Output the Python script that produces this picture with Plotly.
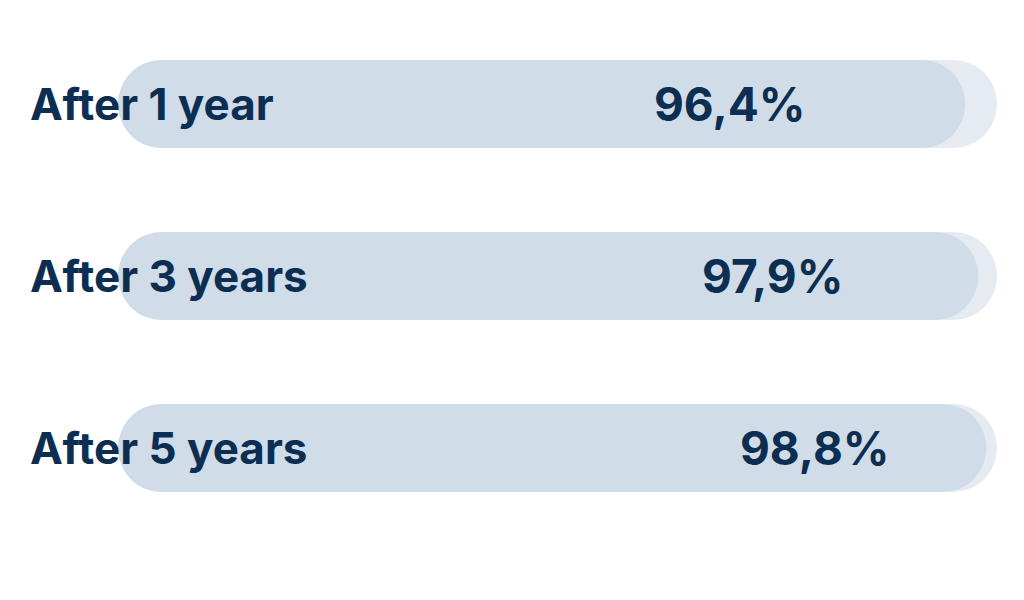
import plotly.graph_objects as go

# ---- data ----
categories = ["After 1 year", "After 3 years", "After 5 years"]
values = [96.4, 97.9, 98.8]
value_labels = ["96,4%", "97,9%", "98,8%"]
track_max = 100

# ---- style ----
NAVY = "#0b2e52"
FG = "#d0dde9"
TRACK = "#e6ebf1"
value_label_x = [69.6, 74.5, 79.3]   # horizontal centre of the value text (axis units)
label_x_paper = -0.102
RADIUS = 44

fig = go.Figure()

def pill(vals, color):
    fig.add_trace(go.Bar(
        y=categories, x=vals, base=[0] * len(vals),
        orientation="h", width=0.512,
        marker=dict(color=color, cornerradius=RADIUS, line=dict(width=0)),
        hoverinfo="skip", showlegend=False))

pill([track_max] * len(categories), TRACK)
pill(values, FG)

for cat, lab, xv in zip(categories, value_labels, value_label_x):
    fig.add_annotation(x=xv, y=cat, xref="x", yref="y", text=lab,
                       showarrow=False, xanchor="center", yanchor="middle",
                       font=dict(family="Inter", size=46, color=NAVY, weight="bold"))
    fig.add_annotation(x=label_x_paper, y=cat, xref="paper", yref="y", text=cat,
                       showarrow=False, xanchor="left", yanchor="middle",
                       font=dict(family="Inter", size=44, color=NAVY, weight="bold"))

fig.update_layout(
    width=1016, height=592,
    margin=dict(l=110, r=27, t=10, b=66),
    barmode="overlay",
    paper_bgcolor="white", plot_bgcolor="white",
    xaxis=dict(range=[0, 100], visible=False, fixedrange=True),
    yaxis=dict(autorange="reversed", visible=False, fixedrange=True),
)

fig.write_html("out.html", config={"displayModeBar": False})
